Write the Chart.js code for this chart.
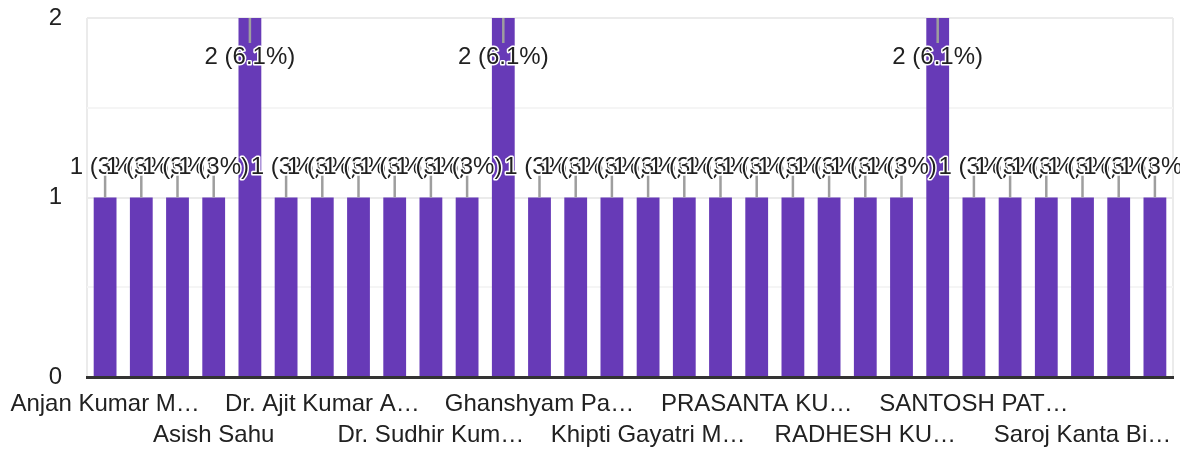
<!DOCTYPE html>
<html>
<head>
<meta charset="utf-8">
<script src="https://cdn.jsdelivr.net/npm/chart.js@4/dist/chart.umd.min.js"></script>
<style>
  html, body { margin: 0; padding: 0; background: #ffffff; }
  #wrap { width: 1180px; height: 450px; }
</style>
</head>
<body>
<div id="wrap"><canvas id="c" width="1180" height="450"></canvas></div>
<script>
// Category names (only every third one is legible in the reference; the rest are hidden)
const categories = [
  "Anjan Kumar M…", "", "", "Asish Sahu", "", "",
  "Dr. Ajit Kumar A…", "", "", "Dr. Sudhir Kum…", "", "",
  "Ghanshyam Pa…", "", "", "Khipti Gayatri M…", "", "",
  "PRASANTA KU…", "", "", "RADHESH KU…", "", "",
  "SANTOSH PAT…", "", "", "Saroj Kanta Bi…", "", ""
];
// Response counts per category
const counts = [
  1, 1, 1, 1, 2, 1, 1, 1, 1, 1,
  1, 2, 1, 1, 1, 1, 1, 1, 1, 1,
  1, 1, 1, 2, 1, 1, 1, 1, 1, 1
];
const yTickValues = [0, 1, 2];

const total = counts.reduce((a, b) => a + b, 0);
const FONT = "'Liberation Sans', Arial, sans-serif";
const TEXT = '#212121';

const labelPlugin = {
  id: 'barLabels',
  afterDatasetsDraw(chart) {
    const ctx = chart.ctx;
    const meta = chart.getDatasetMeta(0);
    const maxV = chart.scales.y.max;
    ctx.save();
    ctx.font = '24px ' + FONT;
    ctx.textAlign = 'center';
    ctx.textBaseline = 'alphabetic';
    meta.data.forEach((bar, i) => {
      const v = counts[i];
      const pct = parseFloat((v / total * 100).toFixed(1));
      const txt = v + ' (' + pct + '%)';
      const x = bar.x, y = bar.y;
      let l1, l2, ty;
      if (v >= maxV) { l1 = y; l2 = y + 25; ty = y + 46; }
      else { l1 = y - 22; l2 = y; ty = y - 24; }
      ctx.strokeStyle = '#9e9e9e';
      ctx.lineWidth = 2.5;
      ctx.beginPath();
      ctx.moveTo(x, l1);
      ctx.lineTo(x, l2);
      ctx.stroke();
      ctx.lineJoin = 'round';
      ctx.strokeStyle = '#ffffff';
      ctx.lineWidth = 3;
      ctx.strokeText(txt, x, ty);
      ctx.fillStyle = TEXT;
      ctx.fillText(txt, x, ty);
    });
    ctx.restore();
  }
};

new Chart(document.getElementById('c'), {
  type: 'bar',
  data: {
    labels: categories,
    datasets: [{
      data: counts,
      backgroundColor: '#673ab7',
      borderWidth: 0,
      barPercentage: 0.63,
      categoryPercentage: 1.0
    }]
  },
  options: {
    responsive: false,
    animation: false,
    devicePixelRatio: 1,
    layout: { padding: { top: 18, right: 7, left: 0, bottom: 0 } },
    plugins: { legend: { display: false }, tooltip: { enabled: false } },
    scales: {
      x: {
        offset: true,
        grid: {
          offset: true,
          drawTicks: false,
          lineWidth: 2,
          color: (c) => (c.index === 0 || c.index === undefined) ? '#ebebeb' : 'rgba(0,0,0,0)'
        },
        border: { display: true, color: '#333333', width: 3 },
        ticks: {
          autoSkip: false,
          maxRotation: 0,
          minRotation: 0,
          padding: 12,
          color: TEXT,
          font: { family: FONT, size: 24, lineHeight: 1.3 },
          callback: (val, idx) => {
            if (idx % 3 !== 0) return '';
            const name = categories[idx];
            return ((idx / 3) % 2 === 1) ? ['', name] : name;
          }
        },
        afterFit: (s) => { s.height = 73; s.paddingLeft = 0; s.paddingRight = 0; }
      },
      y: {
        min: 0,
        max: 2,
        grid: {
          drawTicks: false,
          lineWidth: 2,
          color: (c) => {
            const v = c.tick ? c.tick.value : null;
            if (v === 0) return 'rgba(0,0,0,0)';
            return yTickValues.includes(v) ? '#ebebeb' : '#f5f5f5';
          }
        },
        border: { display: false },
        ticks: {
          stepSize: 0.5,
          padding: 25,
          color: TEXT,
          font: { family: FONT, size: 24 },
          callback: (v) => yTickValues.includes(v) ? String(v) : ''
        },
        afterFit: (s) => { s.width = 87; s.paddingTop = 0; s.paddingBottom = 0; }
      }
    }
  },
  plugins: [labelPlugin]
});
</script>
</body>
</html>
